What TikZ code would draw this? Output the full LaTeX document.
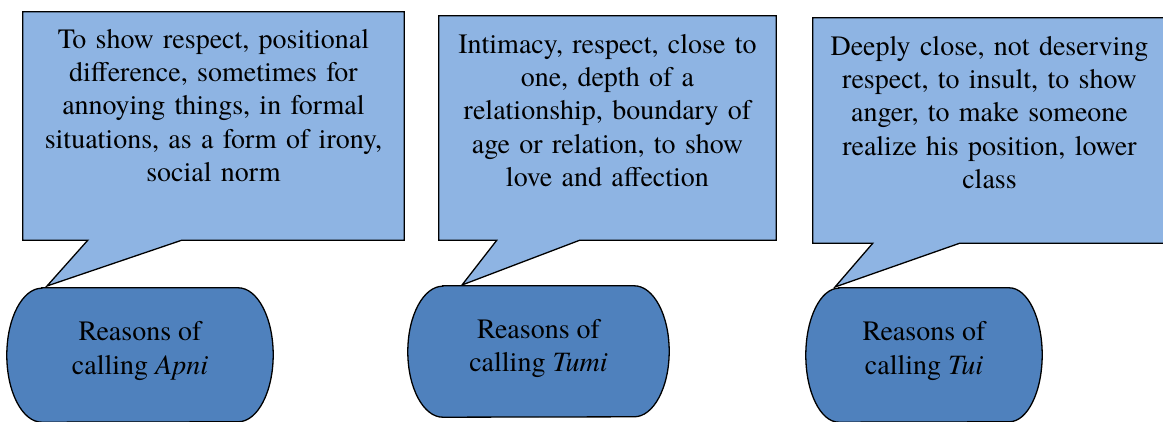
\documentclass[tikz,border=0pt]{standalone}
\usepackage{fontspec}
\setmainfont{texgyretermes}[Extension=.otf, UprightFont=*-regular,
  ItalicFont=*-italic, BoldFont=*-bold, BoldItalicFont=*-bolditalic]
\usepackage{tikz}
\usetikzlibrary{positioning}
\definecolor{bubblefill}{RGB}{142,180,227}
\definecolor{reasonfill}{RGB}{79,129,189}
\tikzstyle{bubble} =
[rectangle, inner sep=0pt, minimum height=224pt, draw=none]
\tikzstyle{bubbletext} =
[rectangle, inner sep=0pt, text width=340pt, align=center,
font=\fontsize{28}{33.3}\selectfont]
\tikzstyle{reason} =
[rectangle, inner sep=0pt, minimum height=131pt, align=center,
font=\fontsize{28}{33.5}\selectfont]
\tikzstyle{bubbleline} = [draw=black, line width=1.3pt, fill=bubblefill]
\tikzstyle{reasonline} = [draw=black, line width=1.3pt, fill=reasonfill]

\begin{document}
\begin{tikzpicture}[x=1pt, y=1pt]
  \useasboundingbox (0,0) rectangle (1163,421);
  % bubble frames
  \node [bubble, minimum width=381pt, minimum height=228pt] (apnibox) at (213.5,295) {};
  \node [bubble, minimum width=337pt] (tumibox) at (607.5,293) {};
  \node [bubble, minimum width=353pt, minimum height=225pt] (tuibox) at (989.5,290.5) {};
  % reason nodes
  \node [reason, minimum width=266pt, minimum height=134pt] (apni) at (140,66) {};
  \node [reason, minimum width=261pt] (tumi) at (538.5,69.5) {};
  \node [reason, minimum width=236pt, minimum height=134pt] (tui) at (924,66) {};
  % pointer tips
  \coordinate (apnitip) at (47,135);
  \coordinate (tumitip) at (462,136);
  \coordinate (tuitip) at (835,134);
  %
  % bubble outlines
  \path [bubbleline] (apnibox.north west) -- (apnibox.north east) -- (apnibox.south east)
    -- ([xshift=159pt]apnibox.south west) -- (apnitip)
    -- ([xshift=65pt]apnibox.south west) -- (apnibox.south west) -- cycle;
  \path [bubbleline] (tumibox.north west) -- (tumibox.north east) -- (tumibox.south east)
    -- ([xshift=141pt]tumibox.south west) -- (tumitip)
    -- ([xshift=58pt]tumibox.south west) -- (tumibox.south west) -- cycle;
  \path [bubbleline] (tuibox.north west) -- (tuibox.north east) -- (tuibox.south east)
    -- ([xshift=147pt]tuibox.south west) -- (tuitip)
    -- ([xshift=60pt]tuibox.south west) -- (tuibox.south west) -- cycle;
  % reason outlines
  \path [reasonline] ([xshift=35pt]apni.north west) -- ([xshift=-35pt]apni.north east)
    arc[start angle=90, end angle=-90, x radius=35pt, y radius=67pt]
    -- ([xshift=35pt]apni.south west)
    arc[start angle=270, end angle=90, x radius=35pt, y radius=67pt] -- cycle;
  \path [reasonline] ([xshift=35pt]tumi.north west) -- ([xshift=-35pt]tumi.north east)
    arc[start angle=90, end angle=-90, x radius=35pt, y radius=65.5pt]
    -- ([xshift=35pt]tumi.south west)
    arc[start angle=270, end angle=90, x radius=35pt, y radius=65.5pt] -- cycle;
  \path [reasonline] ([xshift=33pt]tui.north west) -- ([xshift=-33pt]tui.north east)
    arc[start angle=90, end angle=-90, x radius=33pt, y radius=67pt]
    -- ([xshift=33pt]tui.south west)
    arc[start angle=270, end angle=90, x radius=33pt, y radius=67pt] -- cycle;
  %
  % texts
  \node [bubbletext, below=17pt of apnibox.north] (apnitext)
   {To show respect, positional\\ difference, sometimes for\\ annoying things, in formal\\
    situations, as a form of irony,\\ social norm};
  \node [bubbletext, below=18pt of tumibox.north] (tumitext)
   {Intimacy, respect, close to\\ one, depth of a\\ relationship, boundary of\\
    age or relation, to show\\ love and affection};
  \node [bubbletext, below=18pt of tuibox.north] (tuitext)
   {Deeply close, not deserving\\ respect, to insult, to show\\ anger, to make someone\\
    realize his position, lower\\ class};
  \node [reason, yshift=4pt] at (apni) {Reasons of\\ calling \textit{Apni}};
  \node [reason, yshift=3pt] at (tumi) {Reasons of\\ calling \textit{Tumi}};
  \node [reason, yshift=4pt] at (tui) {Reasons of\\ calling \textit{Tui}};
\end{tikzpicture}
\end{document}
